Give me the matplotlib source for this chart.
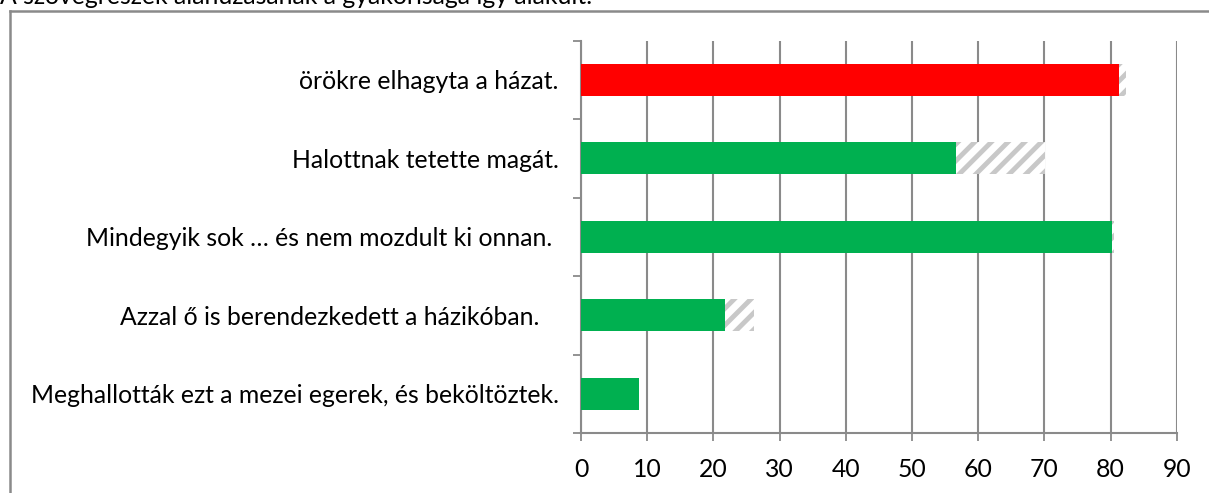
import matplotlib
matplotlib.use("Agg")
from matplotlib import pyplot as plt
from matplotlib.lines import Line2D

plt.rcParams['font.family'] = ['Lato', 'DejaVu Sans']
plt.rcParams['hatch.linewidth'] = 3.5
plt.rcParams['hatch.color'] = '#c8c8c8'

labels = ['Meghallották ezt a mezei egerek, és beköltöztek.',
          'Azzal ő is berendezkedett a házikóban.   ',
          'Mindegyik sok … és nem mozdult ki onnan. ',
          'Halottnak tetette magát.',
          'örökre elhagyta a házat.']
main = [8.7, 21.7, 80.2, 56.7, 81.3]
total = [8.7, 26.2, 80.6, 70.1, 82.4]
colors = ['#00b050', '#00b050', '#00b050', '#00b050', '#ff0000']
title = 'A szövegrészek aláhúzásának a gyakorisága így alakult:'

W, H = 1209, 493
fig = plt.figure(figsize=(W / 100, H / 100), dpi=100)
ax = fig.add_axes([581 / W, 1 - 433 / H, (1176.7 - 581) / W, (433 - 40.7) / H])

gray = '#8a8a8a'
fs = 17.8
pos = list(range(len(labels)))
extra = [t - m for t, m in zip(total, main)]
ax.barh(pos, main, height=0.41, color=colors, zorder=3)
ax.barh(pos, extra, left=main, height=0.41, color='white', edgecolor='#c8c8c8',
        hatch='//', linewidth=0, zorder=3)

ax.set_xlim(0, 90)
ax.set_ylim(-0.5, 4.5)
ax.set_xticks(range(0, 91, 10))
ax.set_yticks(pos)
ax.set_yticklabels(labels)
ax.set_yticks([p - 0.5 for p in pos] + [4.5], minor=True)
ax.tick_params(axis='y', which='major', length=0, pad=16, labelsize=fs)
ax.tick_params(axis='y', which='minor', length=6, width=1.3, color=gray, direction='out')
ax.tick_params(axis='x', length=6, width=1.3, color=gray, labelsize=fs, pad=12)
ax.grid(axis='x', color=gray, linewidth=1.5, zorder=1)
for s in ['top', 'right']:
    ax.spines[s].set_visible(False)
for s in ['left', 'bottom']:
    ax.spines[s].set_color(gray)
    ax.spines[s].set_linewidth(1.5)

# outer frame of the chart area
fig.add_artist(Line2D([10 / W, 1], [1 - 11 / H, 1 - 11 / H], color=gray, lw=1.8))
fig.add_artist(Line2D([10 / W, 10 / W], [0, 1 - 11 / H], color=gray, lw=1.8))
fig.text(0, 1 - 4.5 / H, title, fontsize=fs, va='baseline', ha='left')

fig.savefig('out.png', dpi=100)
